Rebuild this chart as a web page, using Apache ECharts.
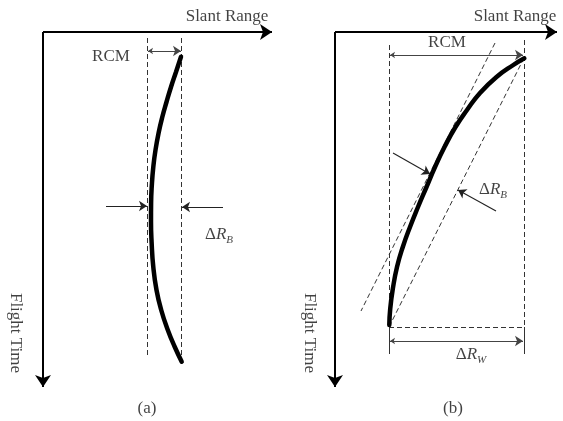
<!DOCTYPE html>
<html>
<head>
<meta charset="utf-8">
<script src="https://cdn.jsdelivr.net/npm/echarts@6/dist/echarts.min.js"></script>
<style>
  html, body { margin: 0; padding: 0; background: #fff; }
  #chart { width: 563px; height: 421px; }
</style>
</head>
<body>
<div id="chart"></div>
<script>
// Geometry of the two range-migration sketches.
// Each panel uses its own frame: x = slant range, y = flight time, origin at the axis corner.

// ---- panel (a): broadside ----
const axesA = [[[0, 0], [229, 0]], [[0, 0], [0, 355]]];
const curveA = [[138, 24.7], [133, 40], [128, 55], [123.5, 70], [119.3, 85], [115.8, 100],
                [112.5, 118], [110.3, 135], [108.9, 152], [108.1, 171], [108, 190],
                [108.6, 210], [110.3, 235], [113.5, 258], [118.2, 278], [124.8, 298],
                [131.8, 315], [138.7, 329.7]];
const dashedA = [[[104, 6], [104, 323]], [[138, 6], [138, 328]]];
const doubleArrowsA = [[[105, 19], [138, 19]]];
const pointersA = [[[63, 174], [104, 174]], [[180, 175], [139, 175]]];
const labelsA = [
  { name: 'Slant Range', at: [184, -15] },
  { name: 'RCM', at: [68, 25] },
  { name: '{d|Δ}{i|R}{s|B}', at: [176, 203] },
  { name: '(a)', at: [104, 377] }
];
const verticalLabelsA = [{ name: 'Flight Time', at: [-28, 301] }];

// ---- panel (b): squinted ----
const axesB = [[[0, 0], [222, 0]], [[0, 0], [0, 355]]];
const curveB = [[189.3, 26.3], [178.3, 33], [161.5, 45], [145, 61], [132, 78], [120.5, 95],
                [109.5, 115], [100, 135], [91.5, 155], [83, 175], [75, 195], [67.8, 215],
                [62, 235], [57.8, 257], [55.2, 277], [54.3, 293]];
const dashedB = [
  [[54, 13], [54, 295]], [[189, 8], [189, 295]],
  [[54, 295], [189, 295]],
  [[160, 11], [26, 279]],
  [[189, 26], [54, 295]]
];
const solidB = [[[54, 295], [54, 322]], [[189, 295], [189, 322]]];
const doubleArrowsB = [[[55, 23], [188, 23]], [[55, 309], [188, 309]]];
const pointersB = [[[58, 121], [95, 142]], [[161, 179], [123, 158]]];
const labelsB = [
  { name: 'Slant Range', at: [180, -15] },
  { name: 'RCM', at: [112, 11] },
  { name: '{d|Δ}{i|R}{s|B}', at: [158, 158] },
  { name: '{d|Δ}{i|R}{s|W}', at: [136, 323] },
  { name: '(b)', at: [118, 377] }
];
const verticalLabelsB = [{ name: 'Flight Time', at: [-26, 301] }];

const FONT = 'Liberation Serif';
const rich = {
  d: { fontFamily: FONT, fontSize: 17, color: '#111', lineHeight: 22 },
  i: { fontFamily: FONT, fontSize: 17, fontStyle: 'italic', color: '#111', lineHeight: 22 },
  s: { fontFamily: FONT, fontSize: 11, fontStyle: 'italic', color: '#111', lineHeight: 11, padding: [11, 0, 0, 0] }
};

function linesSeries(i, segs, opts) {
  return Object.assign({
    type: 'lines', coordinateSystem: 'cartesian2d', xAxisIndex: i, yAxisIndex: i,
    silent: true, animation: false, z: 3,
    data: segs.map(s => ({ coords: s }))
  }, opts);
}

function panelSeries(i, p) {
  const out = [];
  // main axes
  out.push(linesSeries(i, p.axes, {
    symbol: ['none', 'arrow'], symbolSize: [10, 12],
    lineStyle: { color: '#000', width: 2, opacity: 1 }
  }));
  // dashed guides
  out.push(linesSeries(i, p.dashed, {
    symbol: ['none', 'none'],
    lineStyle: { color: '#333', width: 1, type: [5, 3], opacity: 1 }
  }));
  if (p.solid) {
    out.push(linesSeries(i, p.solid, {
      symbol: ['none', 'none'],
      lineStyle: { color: '#333', width: 1, opacity: 1 }
    }));
  }
  // dimension arrows
  out.push(linesSeries(i, p.doubleArrows, {
    symbol: ['arrow', 'arrow'], symbolSize: [5, 8],
    lineStyle: { color: '#444', width: 1.2, opacity: 1 }
  }));
  out.push(linesSeries(i, p.pointers, {
    symbol: ['none', 'arrow'], symbolSize: [5, 8],
    lineStyle: { color: '#222', width: 1.1, opacity: 1 }
  }));
  // range history
  out.push({
    type: 'line', xAxisIndex: i, yAxisIndex: i, data: p.curve, smooth: 0.5,
    showSymbol: false, silent: true, animation: false, z: 4,
    lineStyle: { color: '#000', width: 4.5, cap: 'round' }
  });
  // text
  out.push({
    type: 'scatter', xAxisIndex: i, yAxisIndex: i, symbolSize: 1, silent: true,
    animation: false, clip: false, itemStyle: { color: 'rgba(0,0,0,0)' },
    data: p.labels.map(l => ({ value: l.at, name: l.name })),
    label: { show: true, position: 'inside', formatter: d => d.name.startsWith('{') ? d.name : '{d|' + d.name + '}', rich: rich }
  });
  out.push({
    type: 'scatter', xAxisIndex: i, yAxisIndex: i, symbolSize: 1, silent: true,
    animation: false, clip: false, itemStyle: { color: 'rgba(0,0,0,0)' },
    data: p.vlabels.map(l => ({ value: l.at, name: l.name })),
    label: { show: true, position: 'inside', rotate: -90, formatter: d => '{d|' + d.name + '}', rich: rich }
  });
  return out;
}

const chart = echarts.init(document.getElementById('chart'), null, { renderer: 'canvas' });
chart.setOption({
  backgroundColor: '#fff',
  animation: false,
  grid: [
    { left: 0, top: 0, width: 280, height: 421 },
    { left: 280, top: 0, width: 283, height: 421 }
  ],
  xAxis: [
    { gridIndex: 0, type: 'value', min: -43, max: 237, show: false },
    { gridIndex: 1, type: 'value', min: -55, max: 228, show: false }
  ],
  yAxis: [
    { gridIndex: 0, type: 'value', min: -32, max: 389, inverse: true, show: false },
    { gridIndex: 1, type: 'value', min: -32, max: 389, inverse: true, show: false }
  ],
  series: [
    ...panelSeries(0, { axes: axesA, curve: curveA, dashed: dashedA, doubleArrows: doubleArrowsA,
                        pointers: pointersA, labels: labelsA, vlabels: verticalLabelsA }),
    ...panelSeries(1, { axes: axesB, curve: curveB, dashed: dashedB, solid: solidB, doubleArrows: doubleArrowsB,
                        pointers: pointersB, labels: labelsB, vlabels: verticalLabelsB })
  ]
});
</script>
</body>
</html>
